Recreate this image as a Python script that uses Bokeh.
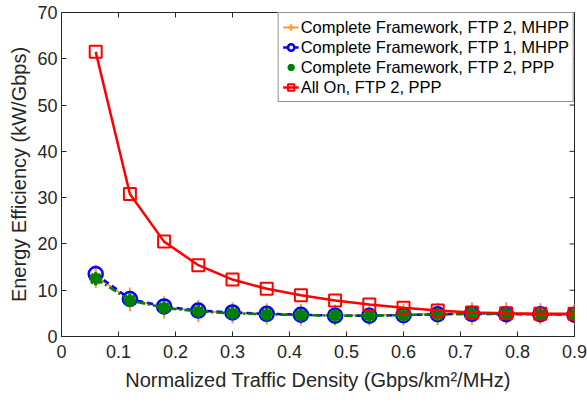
import math
from bokeh.plotting import figure
from bokeh.models import Range1d, Legend, LegendItem, FixedTicker
from bokeh.embed import file_html
from bokeh.resources import INLINE

x = [0.06, 0.12, 0.18, 0.24, 0.30, 0.36, 0.42, 0.48, 0.54, 0.60, 0.66, 0.72, 0.78, 0.84, 0.90]
cf_ftp2_mhpp = [13.0, 8.0, 6.3, 5.5, 5.1, 4.9, 4.7, 4.6, 4.6, 4.7, 4.9, 5.0, 5.0, 4.9, 4.8]
cf_ftp2_mhpp_err = [2.5, 2.6, 2.4, 2.4, 2.3, 2.3, 2.3, 2.3, 2.3, 2.3, 2.4, 2.4, 2.4, 2.3, 2.3]
cf_ftp1_mhpp = [13.5, 8.1, 6.5, 5.6, 5.2, 4.9, 4.7, 4.5, 4.5, 4.6, 4.8, 4.9, 4.8, 4.8, 4.7]
cf_ftp2_ppp = [12.5, 7.8, 6.2, 5.4, 5.0, 4.8, 4.6, 4.5, 4.5, 4.6, 4.8, 4.9, 4.9, 4.8, 4.7]
all_on = [61.5, 30.8, 20.5, 15.4, 12.3, 10.3, 8.9, 7.8, 6.9, 6.2, 5.6, 5.2, 5.0, 4.9, 4.9]

x_ticks = [0, 0.1, 0.2, 0.3, 0.4, 0.5, 0.6, 0.7, 0.8, 0.9]
y_ticks = [0, 10, 20, 30, 40, 50, 60, 70]
x_ticklabels = ["0", "0.1", "0.2", "0.3", "0.4", "0.5", "0.6", "0.7", "0.8", "0.9"]
X_MAX = 0.9
Y_MAX = 70

FONT = "Liberation Sans"
TXT = "#262626"

p = figure(width=587, height=403, output_backend="svg", toolbar_location=None,
           x_range=Range1d(0, X_MAX), y_range=Range1d(0, Y_MAX),
           min_border_left=61, min_border_right=13, min_border_top=12, min_border_bottom=67)
p.grid.visible = False
p.outline_line_color = TXT
p.outline_line_width = 1

for ax in p.xaxis + p.yaxis:
    ax.major_label_text_font = FONT
    ax.major_label_text_font_size = "18px"
    ax.major_label_text_color = TXT
    ax.axis_label_text_font = FONT
    ax.axis_label_text_font_size = "20px"
    ax.axis_label_text_font_style = "normal"
    ax.axis_label_text_color = TXT
    ax.axis_line_color = TXT
    ax.major_tick_line_color = TXT
    ax.major_tick_in = 5
    ax.major_tick_out = 0
    ax.minor_tick_line_color = None

p.xaxis.major_label_standoff = 8
p.xaxis.axis_label_standoff = 8
p.yaxis.major_label_standoff = 4
p.yaxis.axis_label_standoff = 4

p.xaxis.ticker = FixedTicker(ticks=x_ticks)
p.xaxis.major_label_overrides = {t: l for t, l in zip(x_ticks, x_ticklabels)}
p.yaxis.ticker = FixedTicker(ticks=y_ticks)
p.xaxis.axis_label = "Normalized Traffic Density (Gbps/km²/MHz)"
p.yaxis.axis_label = "Energy Efficiency (kW/Gbps)"

# inward ticks on the top and right edges of the box
p.ray(x=x_ticks, y=[Y_MAX] * len(x_ticks), length=5, length_units="screen",
      angle=-math.pi / 2, line_color=TXT, line_width=1)
p.ray(x=[X_MAX] * len(y_ticks), y=y_ticks, length=5, length_units="screen",
      angle=math.pi, line_color=TXT, line_width=1)

ORANGE = "#ff9a3c"
BLUE = "#0000ff"
GREEN = "#008000"
RED = "#ff0000"

lower = [v - e for v, e in zip(cf_ftp2_mhpp, cf_ftp2_mhpp_err)]
upper = [v + e for v, e in zip(cf_ftp2_mhpp, cf_ftp2_mhpp_err)]
p.segment(x0=x, y0=lower, x1=x, y1=upper, line_color=ORANGE, line_width=2)
o_line = p.line(x, cf_ftp2_mhpp, line_color=ORANGE, line_width=2)
o_mark = p.scatter(x, cf_ftp2_mhpp, marker="cross", size=15, line_color=ORANGE, line_width=2)

b_line = p.line(x, cf_ftp1_mhpp, line_color=BLUE, line_width=2.5, line_dash="6 4")
b_mark = p.scatter(x, cf_ftp1_mhpp, marker="circle", size=14, line_color=BLUE, line_width=2.5,
                   fill_color=None)

g_line = p.line(x, cf_ftp2_ppp, line_color=GREEN, line_width=2.5, line_dash="8 3 2 3")
g_mark = p.scatter(x, cf_ftp2_ppp, marker="asterisk", size=13, line_color=GREEN, line_width=3.5)
g_fill = p.scatter(x, cf_ftp2_ppp, marker="circle", size=9, line_color=GREEN, fill_color=GREEN)

r_line = p.line(x, all_on, line_color=RED, line_width=2.5)
r_mark = p.scatter(x, all_on, marker="square", size=12, line_color=RED, line_width=2,
                   fill_color=None)

legend = Legend(items=[
    LegendItem(label="Complete Framework, FTP 2, MHPP", renderers=[o_line, o_mark]),
    LegendItem(label="Complete Framework, FTP 1, MHPP", renderers=[b_line, b_mark]),
    LegendItem(label="Complete Framework, FTP 2, PPP", renderers=[g_mark, g_fill]),
    LegendItem(label="All On, FTP 2, PPP", renderers=[r_line, r_mark]),
], location="top_right")
legend.label_text_font = FONT
legend.label_text_font_size = "16.5px"
legend.label_text_color = "#000000"
legend.label_height = 20
legend.glyph_height = 20
legend.glyph_width = 16
legend.spacing = 0
legend.padding = 4
legend.margin = 0
legend.label_standoff = 2
legend.border_line_color = TXT
legend.border_line_width = 1
legend.background_fill_alpha = 1
p.add_layout(legend)

open("out.html", "w").write(file_html(p, INLINE))
